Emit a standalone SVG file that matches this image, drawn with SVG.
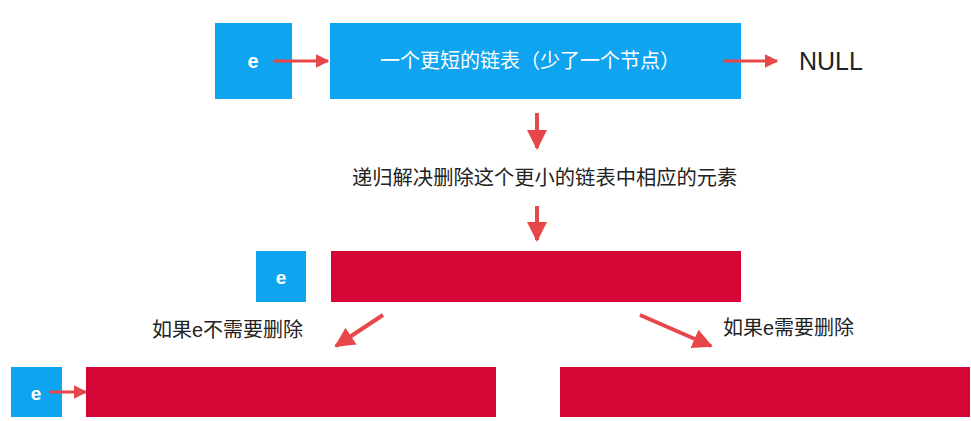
<svg xmlns="http://www.w3.org/2000/svg" width="971" height="421" viewBox="0 0 971 421">
<style>
.blue{fill:#0fa4ef}
.red{fill:#d50636}
.wt{fill:#fff;font-family:"Liberation Sans","Noto Sans CJK SC",sans-serif;text-anchor:middle;dominant-baseline:central}
.bt{fill:#222;font-family:"Liberation Sans","Noto Sans CJK SC",sans-serif;dominant-baseline:central}
.arr{stroke:#e8474a;stroke-width:3;fill:none;marker-end:url(#ah)}
.arrb{stroke:#e8474a;stroke-width:4;fill:none;marker-end:url(#ahb)}
</style>
<defs>
<marker id="ah" viewBox="0 0 10 10" refX="9" refY="5" markerWidth="4.5" markerHeight="4.5" orient="auto" markerUnits="strokeWidth"><path d="M0,0 L10,5 L0,10 z" fill="#e8474a"/></marker>
<marker id="ahb" viewBox="0 0 10 10" refX="9" refY="5" markerWidth="5" markerHeight="6" orient="auto" markerUnits="strokeWidth"><path d="M0,0 L10,5 L0,10 z" fill="#e8474a"/></marker>
</defs>
<g id="e1"><rect class="blue" x="215" y="23" width="77" height="76"/><text class="wt" x="253" y="61" font-size="20" font-weight="bold">e</text></g>
<g id="list1"><rect class="blue" x="330" y="23" width="411" height="76"/><text class="wt" x="530" y="61" font-size="20">一个更短的链表（少了一个节点）</text></g>
<g id="null"><text class="bt" x="799" y="61" font-size="25">NULL</text></g>
<g id="step"><text class="bt" x="352" y="178" font-size="20.3">递归解决删除这个更小的链表中相应的元素</text></g>
<g id="e2"><rect class="blue" x="256" y="251" width="50" height="51"/><text class="wt" x="281" y="277" font-size="19" font-weight="bold">e</text></g>
<g id="list2"><rect class="red" x="331" y="251" width="410" height="51"/></g>
<g id="lab1"><text class="bt" x="152" y="330" font-size="20">如果e不需要删除</text></g>
<g id="lab2"><text class="bt" x="723" y="328" font-size="20">如果e需要删除</text></g>
<g id="e3"><rect class="blue" x="11" y="367" width="51" height="50"/><text class="wt" x="36" y="393" font-size="19" font-weight="bold">e</text></g>
<g id="list3"><rect class="red" x="86" y="367" width="410" height="50"/></g>
<g id="list4"><rect class="red" x="560" y="367" width="410" height="50"/></g>
<g id="connectors">
<line class="arr" x1="274" y1="61" x2="328" y2="61"/>
<line class="arr" x1="723" y1="61" x2="777" y2="61"/>
<line class="arrb" x1="537" y1="113" x2="537" y2="148"/>
<line class="arrb" x1="537" y1="206" x2="537" y2="240"/>
<line class="arrb" x1="383" y1="315" x2="336" y2="346"/>
<line class="arrb" x1="640" y1="315" x2="711" y2="346"/>
<line class="arr" x1="50" y1="392" x2="86" y2="392"/>
</g>
</svg>
